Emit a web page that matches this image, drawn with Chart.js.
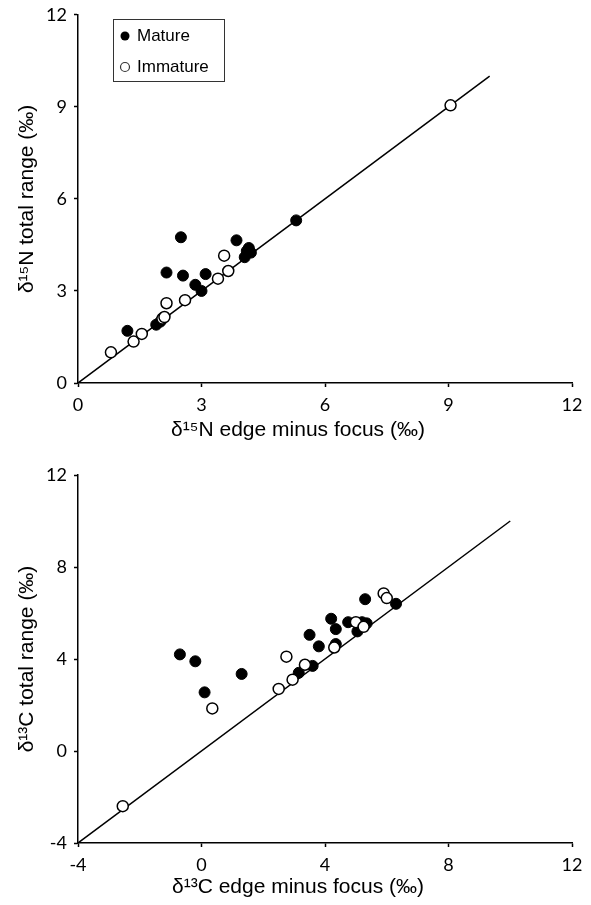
<!DOCTYPE html>
<html>
<head>
<meta charset="utf-8">
<script src="https://cdn.jsdelivr.net/npm/chart.js@4/dist/chart.umd.min.js"></script>
<style>
  body { margin: 0; background: #fff; overflow: hidden; }
  .panel { position: absolute; left: 0; width: 591px; }
  #topPanel { top: -3px; height: 455px; }
  #bottomPanel { top: 452px; height: 453px; }
</style>
</head>
<body>
<div class="panel" id="topPanel"><canvas id="nChart"></canvas></div>
<div class="panel" id="bottomPanel"><canvas id="cChart"></canvas></div>
<script>
// d15N panel
const matureNX = [1.2, 1.9, 2.0, 2.15, 2.5, 2.55, 2.85, 3.0, 3.1, 3.85, 4.05, 4.1, 4.15, 4.2, 5.3];
const matureNY = [1.7, 1.9, 2.0, 3.6, 4.75, 3.5, 3.2, 3.0, 3.55, 4.65, 4.1, 4.3, 4.4, 4.25, 5.3];
const immatureNX = [0.8, 1.35, 1.55, 2.05, 2.1, 2.15, 2.6, 3.4, 3.55, 3.65, 9.05];
const immatureNY = [1.0, 1.35, 1.6, 2.1, 2.15, 2.6, 2.7, 3.4, 4.15, 3.65, 9.05];

// d13C panel
const matureCX = [-0.7, -0.2, 0.1, 1.3, 3.15, 3.6, 3.5, 3.8, 4.2, 4.35, 4.35, 4.75, 5.05, 5.2, 5.35, 5.3, 6.3];
const matureCY = [4.2, 3.9, 2.55, 3.35, 3.4, 3.7, 5.05, 4.55, 5.75, 5.3, 4.65, 5.6, 5.2, 5.6, 5.55, 6.6, 6.4];
const immatureCX = [-2.55, 0.35, 2.5, 2.75, 2.95, 3.35, 4.3, 5.0, 5.25, 5.9, 6.0];
const immatureCY = [-2.4, 1.85, 2.7, 4.1, 3.1, 3.75, 4.5, 5.6, 5.4, 6.85, 6.65];

// 1:1 lines
const lineN = [0, 10];
const lineC = [-4, 10];

const nTicks = [0, 3, 6, 9, 12];
const cTicks = [-4, 0, 4, 8, 12];

const toPoints = (xs, ys) => xs.map((x, i) => ({ x: x, y: ys[i] }));

const titleFont = "21px 'Liberation Sans', Arial, sans-serif";

const legendBox = {
  id: "legendBox",
  afterDraw(chart, args, opts) {
    if (!opts.show) return;
    const ctx = chart.ctx;
    const top = opts.top;
    ctx.save();
    ctx.strokeStyle = "#333";
    ctx.lineWidth = 1;
    ctx.strokeRect(113.5, top + 0.5, 111, 62);
    ctx.font = "17px 'Liberation Sans', Arial, sans-serif";
    ctx.textBaseline = "middle";
    ctx.fillStyle = "#000";
    ctx.beginPath();
    ctx.arc(125, top + 17, 4.5, 0, Math.PI * 2);
    ctx.fill();
    ctx.fillText("Mature", 137, top + 17);
    ctx.beginPath();
    ctx.arc(125, top + 48, 4.5, 0, Math.PI * 2);
    ctx.fillStyle = "#fff";
    ctx.fill();
    ctx.lineWidth = 1.2;
    ctx.stroke();
    ctx.fillStyle = "#000";
    ctx.fillText("Immature", 137, top + 48);
    ctx.restore();
  },
};

// x title sits a bit left of the plot centre in the original
const xTitle = {
  id: "xTitle",
  afterDraw(chart, args, opts) {
    const ctx = chart.ctx;
    ctx.save();
    ctx.font = titleFont;
    ctx.fillStyle = "#000";
    ctx.textAlign = "center";
    ctx.textBaseline = "middle";
    ctx.fillText(opts.text, opts.x, opts.y);
    ctx.restore();
  },
};

const axisStyle = (min, max, ticks) => ({
  type: "linear",
  min: min,
  max: max,
  afterBuildTicks: (scale) => {
    scale.ticks = ticks.map((v) => ({ value: v }));
  },
  border: { color: "#000", width: 1.5 },
  grid: {
    drawOnChartArea: false,
    drawTicks: true,
    tickLength: 4,
    tickWidth: 1.5,
    tickColor: "#000",
  },
  ticks: {
    color: "#000",
    font: { family: "Lato", size: 18 },
    padding: 7,
  },
});

const createPanel = (ctx, p) => {
  const xAxis = axisStyle(p.min, p.max, p.ticks);
  xAxis.afterFit = (scale) => { scale.height = p.xHeight; };
  const yAxis = axisStyle(p.min, p.max, p.ticks);
  yAxis.afterFit = (scale) => { scale.width = 78; };
  yAxis.title = {
    display: true,
    text: p.yTitle,
    color: "#000",
    font: { family: "'Liberation Sans', Arial", size: 21 },
    padding: { top: 15, bottom: 0 },
  };

  return new Chart(ctx, {
    type: "scatter",
    data: {
      datasets: [
        {
          label: "Immature",
          data: p.immature,
          pointRadius: 5.5,
          pointBackgroundColor: "#fff",
          pointBorderColor: "#000",
          pointBorderWidth: 1.5,
        },
        {
          label: "Mature",
          data: p.mature,
          pointRadius: 5.5,
          pointBackgroundColor: "#000",
          pointBorderColor: "#000",
          pointBorderWidth: 1,
        },
        {
          type: "line",
          data: p.line.map((v) => ({ x: v, y: v })),
          borderColor: "#000",
          borderWidth: 1.5,
          pointRadius: 0,
          fill: false,
        },
      ],
    },
    options: {
      responsive: true,
      maintainAspectRatio: false,
      animation: false,
      layout: {
        padding: { left: 0, right: 19, top: p.top, bottom: 0 },
      },
      scales: { x: xAxis, y: yAxis },
      plugins: {
        legend: { display: false },
        tooltip: { enabled: false },
        legendBox: { show: p.legend, top: 22 },
        xTitle: { text: p.xTitle, x: 298, y: p.xTitleY },
      },
    },
    plugins: [legendBox, xTitle],
  });
};

createPanel(document.getElementById("nChart"), {
  min: 0,
  max: 12,
  ticks: nTicks,
  xTitle: "\u03b4\u00b9\u2075N edge minus focus (\u2030)",
  yTitle: "\u03b4\u00b9\u2075N total range (\u2030)",
  mature: toPoints(matureNX, matureNY),
  immature: toPoints(immatureNX, immatureNY),
  line: lineN,
  xHeight: 69,
  xTitleY: 433,
  top: 11,
  legend: true,
});

createPanel(document.getElementById("cChart"), {
  min: -4,
  max: 12,
  ticks: cTicks,
  xTitle: "\u03b4\u00b9\u00b3C edge minus focus (\u2030)",
  yTitle: "\u03b4\u00b9\u00b3C total range (\u2030)",
  mature: toPoints(matureCX, matureCY),
  immature: toPoints(immatureCX, immatureCY),
  line: lineC,
  xHeight: 62,
  xTitleY: 435,
  top: 23,
  legend: false,
});
</script>
</body>
</html>
